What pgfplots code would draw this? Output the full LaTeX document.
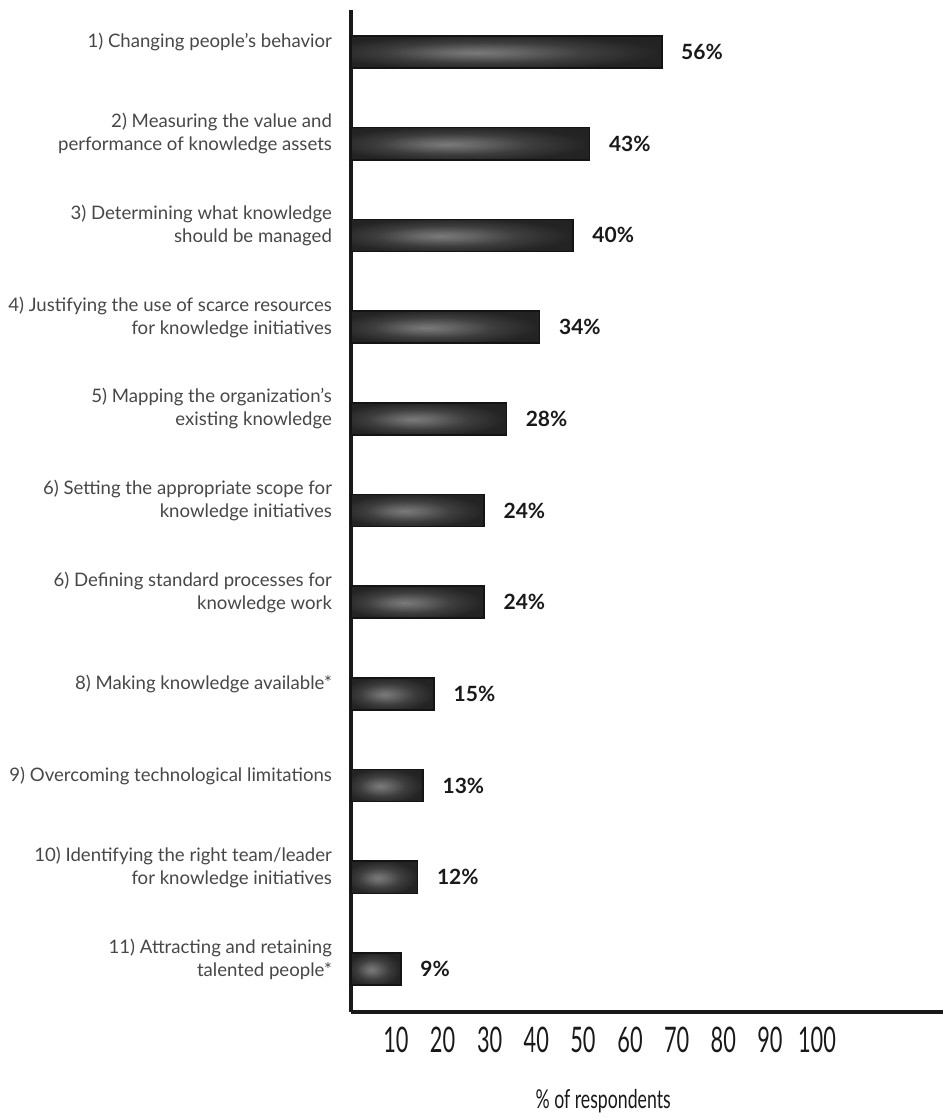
\documentclass[border=0pt]{standalone}
\usepackage{fontspec}
\setmainfont{Lato}
\usepackage{graphicx}
\usepackage{pgfplots}
\pgfplotsset{compat=1.18}
\pgfdeclareradialshading{glow}{\pgfpoint{-5bp}{-1bp}}{color(0bp)=(black!52); color(6bp)=(black!60); color(16bp)=(black!76); color(27bp)=(black!86); color(50bp)=(black!88)}
\newcommand\tn[1]{\scalebox{0.68}[1.1]{#1}}
\begin{document}
\begin{tikzpicture}
\begin{axis}[
  scale only axis, width=296pt, height=501pt,
  xmin=0, xmax=106.7, ymin=0.542, ymax=11.469, y dir=reverse,
  axis lines*=left,
  axis line style={line width=1.6pt, black!90},
  major tick length=0pt,
  ytick={1,...,11},
  yticklabels={
    {1) Changing people's behavior},
    {2) Measuring the value and\\performance of knowledge assets},
    {3) Determining what knowledge\\should be managed},
    {4) Justifying the use of scarce resources\\for knowledge initiatives},
    {5) Mapping the organization's\\existing knowledge},
    {6) Setting the appropriate scope for\\knowledge initiatives},
    {6) Defining standard processes for\\knowledge work},
    {8) Making knowledge available*},
    {9) Overcoming technological limitations},
    {10) Identifying the right team/leader\\for knowledge initiatives},
    {11) Attracting and retaining\\talented people*}},
  yticklabel style={align=right, font=\fontsize{9.3}{11.6}\selectfont, text=black!72, xshift=-6pt, yshift=5pt},
  xtick={8.1,16.5,25.0,33.4,41.8,50.3,58.7,67.1,75.5,84.0},
  xticklabels={\tn{10},\tn{20},\tn{30},\tn{40},\tn{50},\tn{60},\tn{70},\tn{80},\tn{90},\tn{100}},
  xticklabel style={font=\fontsize{16}{18}\selectfont, text=black!90, yshift=-4pt},
  xlabel={\scalebox{0.68}[1]{\fontsize{13}{15}\selectfont \% of respondents}},
  x label style={at={(axis description cs:0.426,0)}, anchor=center, yshift=-44.5pt, text=black!90},
  clip=false,
  bar width=0.35,
  point meta=x,
  /pgf/number format/assume math mode=true,
  nodes near coords={\pgfmathprintnumber{\pgfplotspointmeta}\%},
  every node near coord/.append style={font=\bfseries\fontsize{10.5}{12}\selectfont, text=black!90, anchor=west, xshift=6pt},
]
\addplot[xbar, draw=black!92, line width=0.8pt, shade, shading=glow] coordinates {(56,1)};
\addplot[xbar, draw=black!92, line width=0.8pt, shade, shading=glow] coordinates {(43,2)};
\addplot[xbar, draw=black!92, line width=0.8pt, shade, shading=glow] coordinates {(40,3)};
\addplot[xbar, draw=black!92, line width=0.8pt, shade, shading=glow] coordinates {(34,4)};
\addplot[xbar, draw=black!92, line width=0.8pt, shade, shading=glow] coordinates {(28,5)};
\addplot[xbar, draw=black!92, line width=0.8pt, shade, shading=glow] coordinates {(24,6)};
\addplot[xbar, draw=black!92, line width=0.8pt, shade, shading=glow] coordinates {(24,7)};
\addplot[xbar, draw=black!92, line width=0.8pt, shade, shading=glow] coordinates {(15,8)};
\addplot[xbar, draw=black!92, line width=0.8pt, shade, shading=glow] coordinates {(13,9)};
\addplot[xbar, draw=black!92, line width=0.8pt, shade, shading=glow] coordinates {(12,10)};
\addplot[xbar, draw=black!92, line width=0.8pt, shade, shading=glow] coordinates {(9,11)};
\end{axis}
\pgfresetboundingbox
\path ([xshift=-175.5pt,yshift=-53pt]current axis.south west) rectangle ([yshift=5pt]current axis.north east);
\end{tikzpicture}
\end{document}
